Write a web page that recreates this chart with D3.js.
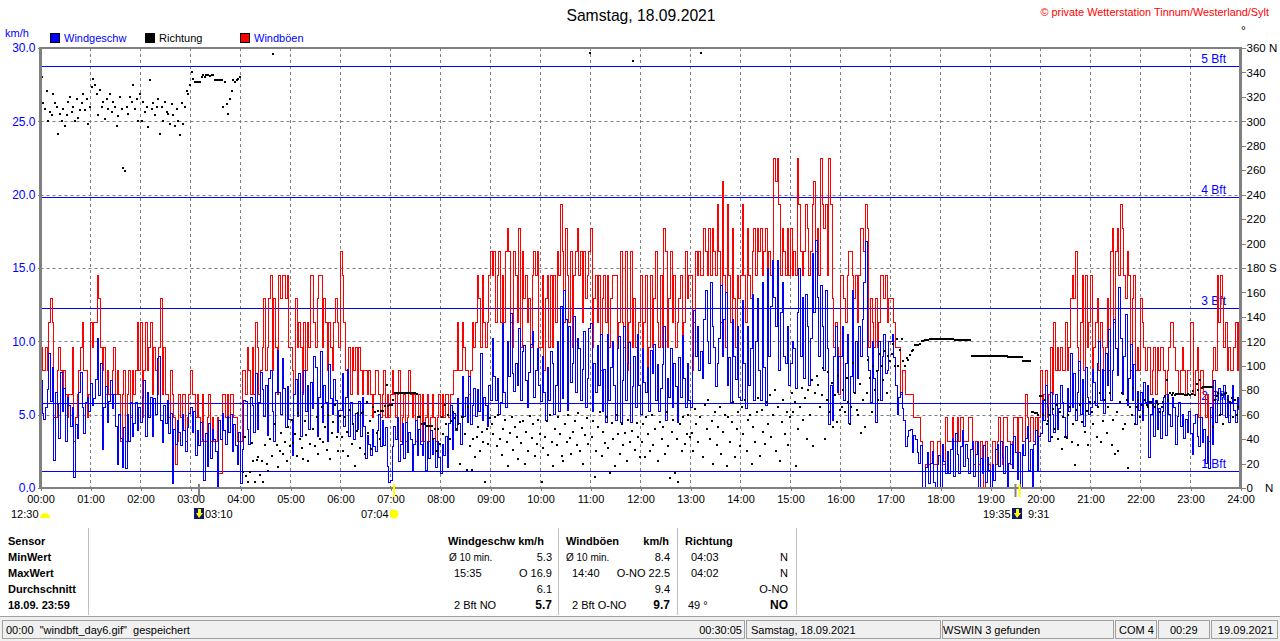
<!DOCTYPE html>
<html>
<head>
<meta charset="utf-8">
<title>Samstag, 18.09.2021</title>
<script src="https://d3js.org/d3.v7.min.js"></script>
<style>
  body { margin: 0; background: #fff; }
  svg { display: block; }
  text { font-family: "Liberation Sans", Arial, sans-serif; font-size: 11px; }
  .b { font-weight: bold; }
</style>
</head>
<body>
<div id="graph"></div>
<script>
// tick labels
var hourLabels = ["00:00","01:00","02:00","03:00","04:00","05:00","06:00","07:00","08:00","09:00","10:00","11:00","12:00",
                  "13:00","14:00","15:00","16:00","17:00","18:00","19:00","20:00","21:00","22:00","23:00","24:00"];
var speedTicks = [0, 5, 10, 15, 20, 25, 30];
var degreeTicks = [0,20,40,60,80,100,120,140,160,180,200,220,240,260,280,300,320,340,360];

// beaufort limits in km/h
var bftNames = ["1 Bft", "2 Bft", "3 Bft", "4 Bft", "5 Bft"];
var bftLimits = [1.1, 5.7, 12.2, 19.8, 28.7];

// wind gusts km/h, one row per hour
var gustRows = [
 [9.6,8,8,9.6,8,11.3,12.9,11.3,4.8,4.8,8,9.6,8,6.4,8,6.4,4.8,6.4,6.4,9.6,3.2,4.8,6.4,8,9.6,11.3,8,8,4.8,6.4],
 [11.3,9.6,11.3,11.3,14.5,12.9,9.6,8,9.6,6.4,8,6.4,6.4,8,9.6,6.4,8,6.4,3.2,6.4,8,3.2,6.4,8,4.8,8,6.4,8,11.3,8],
 [11.3,4.8,8,11.3,8,9.6,11.3,6.4,9.6,8,6.4,9.6,12.9,6.4,9.6,6.4,6.4,4.8,8,6.4,4.8,1.6,3.2,6.4,4.8,6.4,6.4,3.2,4.8,6.4],
 [8,6.4,6.4,4.8,6.4,4.8,3.2,6.4,3.2,3.2,4.8,6.4,3.2,4.8,3.2,3.2,4.8,1,1,6.4,6.4,4.8,6.4,4.8,6.4,6.4,4.8,4.8,3.2,3.2],
 [3.2,8,8,6.4,9.6,8,6.4,9.6,6.4,11.3,9.6,6.4,8,9.6,12.9,8,9.6,12.9,14.5,8,12.9,9.6,6.4,14.5,12.9,14.5,14.5,12.9,14.5,9.6],
 [9.6,8,6.4,12.9,9.6,11.3,9.6,6.4,11.3,8,11.3,9.6,14.5,14.5,11.3,9.6,12.9,14.5,14.5,9.6,12.9,11.3,8,11.3,9.6,8,11.3,12.9,11.3,9.6],
 [16.1,14.5,11.3,8,6.4,9.6,6.4,9.6,8,9.6,6.4,9.6,8,6.4,8,8,6.4,8,6.4,4.8,6.4,8,8,6.4,4.8,6.4,8,4.8,6.4,4.8],
 [6.4,8,6.4,4.8,6.4,8,3.2,4.8,6.4,3.2,4.8,8,6.4,4.8,6.4,3.2,4.8,6.4,3.2,6.4,3.2,4.8,6.4,3.2,4.8,6.4,4.8,3.2,4.8,6.4],
 [4.8,6.4,4.8,6.4,6.4,4.8,6.4,6.4,8,8,11.3,8,8,11.3,9.6,8,8,6.4,8,11.3,9.6,11.3,14.5,12.9,9.6,14.5,11.3,9.6,11.3,14.5],
 [16.1,14.5,16.1,11.3,14.5,16.1,11.3,14.5,11.3,16.1,17.7,16.1,11.3,9.6,16.1,14.5,11.3,17.7,9.6,16.1,12.9,14.5,11.3,12.9,9.6,14.5,16.1,14.5,16.1,9.6],
 [9.6,14.5,8,12.9,14.5,9.6,14.5,9.6,14.5,11.3,16.1,14.5,19.3,16.1,11.3,17.7,14.5,11.3,16.1,9.6,14.5,16.1,17.7,14.5,16.1,11.3,16.1,12.9,14.5,16.1],
 [17.7,9.6,12.9,14.5,11.3,14.5,8,12.9,14.5,11.3,14.5,9.6,12.9,14.5,14.5,14.5,9.6,11.3,16.1,11.3,9.6,16.1,8,11.3,16.1,9.6,12.9,9.6,8,11.3],
 [14.5,8,11.3,14.5,8,9.6,14.5,9.6,12.9,16.1,11.3,9.6,14.5,9.6,17.7,16.1,9.6,12.9,16.1,11.3,14.5,9.6,11.3,12.9,14.5,8,11.3,16.1,12.9,14.5],
 [14.5,8,11.3,16.1,14.5,16.1,14.5,14.5,17.7,16.1,14.5,17.7,14.5,17.7,16.1,14.5,19.3,16.1,11.3,20.9,14.5,9.6,19.3,14.5,11.3,17.7,12.9,9.6,14.5,12.9],
 [14.5,19.3,14.5,11.3,17.7,14.5,12.9,16.1,17.7,14.5,17.7,16.1,17.7,14.5,16.1,17.7,14.5,16.1,14.5,14.5,22.5,20.9,22.5,19.3,14.5,17.7,16.1,14.5,17.7,14.5],
 [17.7,14.5,16.1,14.5,22.5,19.3,16.1,14.5,16.1,19.3,17.7,14.5,16.1,19.3,20.9,16.1,17.7,14.5,22.5,19.3,17.7,19.3,14.5,22.5,19.3,12.9,9.6,11.3,9.6,6.4],
 [14.5,14.5,12.9,11.3,14.5,16.1,16.1,14.5,12.9,14.5,11.3,14.5,17.7,17.7,16.1,19.3,17.7,9.6,12.9,11.3,9.6,12.9,9.6,11.3,14.5,14.5,12.9,14.5,11.3,12.9],
 [12.9,12.9,11.3,9.6,9.6,9.6,6.4,8,8,6.4,6.4,6.4,6.4,6.4,4.8,4.8,4.8,4.8,3.2,0,0,1.6,1.6,1.6,3.2,3.2,1.6,1.6,3.2,3.2],
 [0,1.6,1.6,4.8,3.2,3.2,3.2,4.8,3.2,3.2,4.8,3.2,4.8,4.8,3.2,3.2,3.2,4.8,4.8,3.2,1.6,3.2,3.2,1.6,3.2,1.6,0,3.2,1.6,1.6],
 [0,3.2,3.2,1.6,3.2,4.8,3.2,1.6,4.8,4.8,3.2,3.2,1.6,3.2,4.8,4.8,1.6,4.8,4.8,3.2,3.2,6.4,4.8,3.2,4.8,4.8,3.2,4.8,3.2,4.8],
 [8,4.8,6.4,8,4.8,6.4,9.6,6.4,11.3,8,9.6,8,9.6,8,8,11.3,8,9.6,12.9,14.5,12.9,16.1,9.6,8,11.3,14.5,8,14.5,9.6,11.3],
 [14.5,8,9.6,11.3,12.9,8,11.3,9.6,8,9.6,12.9,8,16.1,17.7,11.3,16.1,17.7,14.5,19.3,17.7,14.5,12.9,16.1,14.5,8,12.9,14.5,8,9.6,8],
 [12.9,11.3,9.6,8,9.6,9.6,6.4,8,9.6,6.4,9.6,8,9.6,9.6,8,6.4,8,9.6,11.3,11.3,9.6,8,8,6.4,8,9.6,8,6.4,8,8],
 [11.3,11.3,6.4,8,9.6,4.8,8,8,6.4,4.8,6.4,3.2,4.8,8,9.6,8,14.5,11.3,14.5,12.9,9.6,11.3,8,9.6,8,8,9.6,11.3,8,11.3]
];

// mean wind speed km/h, one row per hour
var speedRows = [
 [7.3,5.1,4.7,5.5,6.7,9.2,5.9,8.2,1.9,6.5,5.7,3.4,7.9,5.2,6.8,3.2,6.2,5.6,4.2,5.5,0.7,4.3,3.4,6.5,7.9,5.5,3.7,5.8,6.2,5.2],
 [7.1,5.6,6.1,7.4,10.2,6.3,8.5,2.6,5.5,6.9,4.5,5.9,7.3,5.4,6.4,4.2,1.6,5,3.4,1.4,4.1,1.3,5,3.2,5.8,3.5,4.4,5.8,3.9,5.5],
 [4.5,6.2,7.3,3.5,6.5,4.8,6.2,3.5,6.1,5,8.8,9,4.6,3.1,5.6,4.4,6,3.7,5.1,0.3,4,3,4.6,3.8,2.9,5,3.9,2.5,4.1,5.1],
 [5.5,3.8,5.2,2.2,3.9,2.9,4.5,3.3,0.5,3.7,1.5,4.4,2,4,3.3,2.5,0.1,4.6,3.3,5.1,3.9,3,4.9,3.8,5,2.5,4.3,2.9,1.6,3.8],
 [0.3,2.6,6,5.9,4,3,6.2,5.6,3.8,7.8,4,5.8,7.9,6.7,4.9,7,3.6,7.5,8,5.2,3.2,6.5,9.4,6.5,5,8.8,6.8,4.1,6.9,4.7],
 [4.7,2.2,6.4,7.4,4.9,7.8,3.5,6.5,8,5.2,7,4,7.2,5.4,9,8.2,3.5,6.2,9.3,4.5,7,5.8,3.2,8.4,6.1,5,7.4,6,3.8,5.3],
 [5.3,7.8,4.2,6.2,8.1,3.5,5.8,4.3,3.3,5.1,4,5.9,3.5,6.2,4.2,2,3.6,3,2.2,4,2.8,2.5,3.9,5,2.8,4.6,2.9,4.1,1.5,0.4],
 [0.5,2.8,4.2,3.3,4.8,1.8,3,4.4,2,4.5,2.4,3.8,3.3,1.2,3,4.6,2.2,4,3,2.2,4.5,1.2,3.2,2,3.9,2.3,3.4,1.4,3.2,2.1],
 [1,3,2.2,3.5,1.4,4.4,5.6,2.6,5.1,3.9,6.1,4.4,3,7.6,4.9,6.2,4.5,7.6,4.3,5.6,6.8,4.9,6.7,5.2,9.2,4.6,6.2,5.6,4.2,7],
 [6,10.2,7.6,6,7.5,5,5.8,11.2,6.5,5.5,10,7.6,11.9,7.8,6.6,8.5,7,10.9,6,9.3,9.7,7.3,5.5,7.9,9.8,10.7,6.2,8,9.5,7],
 [5.9,9,6.5,4.6,8.2,6,9.3,8.5,5,7,10,5.2,12.4,6.1,13.5,11.5,5.3,11,7.2,8.5,11.7,6.5,10.2,9.5,6,8.1,10.7,5.5,7.5,10.9],
 [11.2,5.2,8.5,6.5,9.7,7,10.5,5.2,8.1,4.5,10.5,6,8.2,10,7,4.6,9.5,10.3,4.5,7.3,11,6,8.5,9.9,4.5,6.9,9,5.5,10.5,7],
 [5,9.5,7.2,6.5,8.2,5.2,9.4,7.8,9.8,6,8.4,5.2,6.8,8.4,11,4.6,7.5,6.2,9.5,5.5,8.5,6.9,4.5,8.9,6.2,10.4,7.5,5.5,8.5,6],
 [5.5,9,12.1,9,11,8,9.3,7.5,11.5,13.5,10,8.5,14,11,9.6,6.9,8.5,10.2,13.8,9,11.5,13.3,7,8.9,5.8,11.5,9,7.4,11,6.2],
 [6,12.8,8.5,5.4,11,7,9.5,13.2,6,10,12.9,8,6,14,8.2,5.6,15,9,12.4,15.5,13,11,15.5,8,12,14,9,8.5,11,7],
 [8.5,10,9.5,6.8,12,15,9,13,7.5,13.2,11,7,10.2,16,12,16.9,13,9,13.8,11,8,13.5,9.5,4.3,7,4.6,9,11,6.5,9],
 [9,11,6,8.5,10.5,4.4,7.6,13.5,6.5,10,7.5,11,9,11.5,14,16.8,9,8,5.8,10,7.5,4.5,8,10,6,9,10.5,7.8,8,10],
 [10,10.5,8.9,7,5,6.2,6.5,5.4,4.6,2.8,3.5,3.9,4,2.4,3.6,3.3,2.4,1.7,2.9,0,0,1.4,2.4,0.3,1.7,2.5,0.4,0,1.6,2.2],
 [0,3,1.8,1,2.5,1,2.6,3.4,0.8,3.7,2.3,1,2.8,3.9,1.5,3,2,1,2.6,3.2,0.8,2.3,3.1,0,2,1,2.9,0.4,2.1,1.2],
 [0,1.6,0.5,2.6,3,1.5,3.2,2.1,1,2.8,0,1.7,3,1.3,3.5,2.4,0.6,2.4,0,3,2.2,3.4,4.2,1.2,2.6,0,3,3.9,1.2,3.5],
 [3.7,6,4.6,7,5.5,3.2,6.5,5,3.8,6.4,4,5.4,7,5.8,4.8,3.5,6.8,5.2,9.2,5.5,7.8,4.6,6.5,8.6,5,7.4,4.2,8.2,6.2,5],
 [5.5,8.1,7.2,5.6,8.5,10,6,8.1,5.1,9.2,7,10.8,6,8,11.5,9.5,7.7,13.7,10.2,6.4,9,11.8,5.6,7.5,9.8,6,8.4,4.3,6.6,5.3],
 [6.5,4.6,7.2,5.8,7,2.1,5,6.1,3.5,6,4,5.4,3.4,5.2,6.2,3.6,6.4,5,4.2,6.2,5.5,3,4.9,5.8,4.2,5,3.4,4.7,3.8,5.2],
 [3.7,2.3,4.4,5,3.5,2.8,4.8,3.1,4,1.7,3.5,1.3,5.5,3,7.3,4.5,6,6.8,5,6.2,7,4.8,6.3,4.5,5.8,7,5.3,4.5,6.2,5.3]
];

// wind direction in degrees, one row per hour
var directionRows = [
 [336,315,310,325,300,308,305,322,315,312,290,306,300,310,296,305,316,320,308,312,300,318,303,309,315,322,309,318,298,312],
 [328,335,330,322,305,326,312,316,302,318,310,322,308,316,312,296,304,320,310,262,259,312,306,320,316,330,310,318,300,322],
 [300,316,308,312,295,334,310,315,305,312,318,290,312,300,316,308,306,298,314,305,296,310,300,289,315,298,312,325,322,330],
 [340,335,332,332,332,332,336,338,336,338,338,337,338,338,334,334,334,334,334,312,332,314,306,318,325,334,332,334,335,336],
 [360,13,42,10,5,13,37,22,5,23,25,11,22,5,35,20,14,40,26,355,52,35,17,30,45,28,38,22,50,34],
 [56,37,44,26,61,40,33,24,55,43,22,36,360,48,34,58,28,40,66,38,50,31,60,24,45,54,68,42,30,59],
 [42,30,58,46,26,64,36,52,18,47,61,33,61,62,28,70,45,55,32,66,62,45,63,40,63,63,67,84,67,68],
 [68,72,78,78,78,78,78,78,78,78,78,78,78,78,78,77,58,58,52,52,52,51,51,51,51,40,48,30,48,36],
 [58,44,68,52,60,40,55,62,57,48,52,20,58,58,44,15,66,34,15,40,25,42,50,30,46,38,5,48,36,57],
 [52,44,58,34,60,40,27,48,56,38,18,45,58,31,50,42,24,54,37,55,20,46,30,59,41,52,26,36,56,44],
 [5,33,42,55,27,60,38,18,48,35,58,44,26,22,52,38,60,41,28,46,55,35,61,30,49,20,43,57,36,356],
 [42,55,9,30,50,62,26,46,37,58,33,12,53,40,18,60,44,28,52,35,45,22,56,38,47,349,31,53,42,25],
 [38,52,25,58,44,30,60,35,48,360,22,54,40,50,28,62,34,8,46,56,12,40,5,52,30,58,36,44,60,42],
 [45,30,65,52,38,58,356,25,68,48,72,40,55,20,62,35,50,66,28,46,60,18,58,38,54,70,25,48,62,34],
 [66,44,72,30,56,60,20,50,38,62,74,26,64,46,36,70,52,76,42,60,80,30,66,22,54,72,44,62,35,58],
 [78,62,70,18,48,66,82,56,74,40,80,60,88,34,78,92,84,66,76,98,40,72,95,62,86,50,76,54,92,64],
 [66,80,62,90,70,52,66,102,78,64,60,85,45,72,50,78,105,90,62,100,80,96,72,110,100,88,112,78,108,104],
 [110,118,100,122,100,113,122,104,100,106,105,109,112,113,117,117,117,118,120,120,121,121,121,122,122,122,122,122,122,122],
 [122,122,122,122,122,122,122,122,121,121,121,121,121,121,121,121,121,121,108,108,108,108,108,108,108,108,108,108,108,108],
 [108,108,108,108,108,108,108,108,108,108,107,107,107,107,107,107,107,107,107,104,104,104,104,104,62,62,61,61,60,75],
 [75,60,72,52,55,60,42,65,48,68,40,62,32,58,42,41,60,66,38,52,19,64,35,68,54,72,46,63,35,70],
 [62,52,70,42,66,78,38,55,72,45,66,78,35,56,28,62,30,70,78,48,52,72,16,66,60,82,52,66,72,58],
 [68,62,72,68,66,70,70,68,66,70,69,62,66,70,75,88,72,78,76,78,76,77,77,77,77,77,76,76,77,76],
 [77,79,76,85,80,88,82,83,83,83,83,83,83,50,72,75,78,60,76,52,77,78,72,70,74,58,72,60,66,50]
];

var width = 1280, height = 641;
var margin = {top: 48, right: 1240.5, bottom: 488, left: 40.5};

var x = d3.scaleLinear().domain([0, 24]).range([margin.left, margin.right]);
var ySpeed = d3.scaleLinear().domain([0, 30]).range([margin.bottom, margin.top]);
var yDeg = d3.scaleLinear().domain([0, 360]).range([margin.bottom, margin.top]);

// rows -> [hour, value]
function flatten(rows) {
  return rows.flatMap(function(row, h) {
    return row.map(function(v, i) { return [h + i / row.length, v]; });
  });
}
// keep thin lines on the pixel grid
function snap(v) { return Math.round(v) + 0.5; }

var svg = d3.select("#graph").append("svg")
    .attr("width", width).attr("height", height);

function label(txt, px, py, opts) {
  opts = opts || {};
  return svg.append("text").text(txt)
      .attr("x", px).attr("y", py)
      .attr("class", opts.bold ? "b" : null)
      .attr("text-anchor", opts.anchor || "start")
      .attr("fill", opts.color || "#000")
      .style("font-size", opts.size ? opts.size + "px" : null);
}

// grid
svg.append("g").selectAll("line").data(d3.range(1, 24)).join("line")
    .attr("x1", function(d) { return x(d); }).attr("x2", function(d) { return x(d); })
    .attr("y1", margin.top).attr("y2", margin.bottom)
    .attr("stroke", "#808080").attr("stroke-dasharray", "3,3");
svg.append("g").selectAll("line").data(speedTicks.slice(1, -1)).join("line")
    .attr("x1", margin.left).attr("x2", margin.right)
    .attr("y1", function(d) { return snap(ySpeed(d)); }).attr("y2", function(d) { return snap(ySpeed(d)); })
    .attr("stroke", "#808080").attr("stroke-dasharray", "3,3");

// beaufort lines and names
svg.append("g").selectAll("line").data(bftLimits).join("line")
    .attr("x1", margin.left).attr("x2", margin.right)
    .attr("y1", function(d) { return snap(ySpeed(d)) - 1; }).attr("y2", function(d) { return snap(ySpeed(d)) - 1; })
    .attr("stroke", "#0000ff");
bftLimits.forEach(function(d, i) {
  label(bftNames[i], 1226, ySpeed(d) - 4, {anchor: "end", color: "#0000ff", size: 12});
});

// series
var stepLine = function(scale) {
  return d3.line().curve(d3.curveStepAfter)
      .x(function(d) { return x(d[0]); })
      .y(function(d) { return scale(d[1]); });
};
svg.append("path").datum(flatten(gustRows))
    .attr("d", stepLine(ySpeed))
    .attr("fill", "none").attr("stroke", "#ff0000").attr("stroke-width", 1)
    .attr("shape-rendering", "crispEdges");
svg.append("path").datum(flatten(speedRows))
    .attr("d", stepLine(ySpeed))
    .attr("fill", "none").attr("stroke", "#0000ff").attr("stroke-width", 1)
    .attr("shape-rendering", "crispEdges");
svg.append("g").selectAll("rect").data(flatten(directionRows)).join("rect")
    .attr("x", function(d) { return Math.round(x(d[0])); })
    .attr("y", function(d) { return Math.round(yDeg(d[1])) - 1; })
    .attr("width", 2).attr("height", 2).attr("fill", "#000");

// frame
svg.append("rect")
    .attr("x", margin.left).attr("y", margin.top)
    .attr("width", margin.right - margin.left).attr("height", margin.bottom - margin.top)
    .attr("fill", "none").attr("stroke", "#808080").attr("stroke-width", 2.5).attr("shape-rendering", "crispEdges");

// axes
var axisLeft = svg.append("g").attr("transform", "translate(" + margin.left + ",0)")
    .call(d3.axisLeft(ySpeed).tickValues(speedTicks).tickFormat(d3.format(".1f")).tickSize(3).tickPadding(2));
axisLeft.selectAll("text").attr("fill", "#0000ff").style("font-size", "12px");

var axisRight = svg.append("g").attr("transform", "translate(" + margin.right + ",0)")
    .call(d3.axisRight(yDeg).tickValues(degreeTicks).tickSize(5).tickPadding(1)
        .tickFormat(function(d) { return d === 180 ? "180 S" : d === 360 ? "360 N" : d; }));
axisRight.selectAll("text").attr("fill", "#000").style("font-size", "11.5px");
label("N", 1265, 492, {size: 11.5});
label("\u00b0", 1241, 35, {size: 12});

var axisBottom = svg.append("g").attr("transform", "translate(0," + margin.bottom + ")")
    .call(d3.axisBottom(x).tickValues(d3.range(0, 25)).tickSize(3).tickPadding(4)
        .tickFormat(function(d) { return hourLabels[d]; }));
axisBottom.selectAll("text").attr("fill", "#000").style("font-size", "11px");
[axisLeft, axisRight, axisBottom].forEach(function(a) {
  a.select(".domain").attr("stroke", "none");
  a.selectAll(".tick line").attr("stroke", "#808080").attr("shape-rendering", "crispEdges");
});

// head
label("Samstag, 18.09.2021", 641, 21, {anchor: "middle", size: 15.7});
label("\u00a9 private Wetterstation Tinnum/Westerland/Sylt", 1269, 16, {anchor: "end", color: "#ff0000", size: 10.9});
label("km/h", 5, 37, {color: "#0000ff", size: 11});

// legend
var legendNames = ["Windgeschw", "Richtung", "Windb\u00f6en"];
var legendFills = ["#0000ff", "#000000", "#ff0000"];
var legendText = ["#0000ff", "#000000", "#0000ff"];
var legendX = [50, 145, 240];
legendNames.forEach(function(n, i) {
  svg.append("rect").attr("x", legendX[i] + 0.5).attr("y", 33.5).attr("width", 9).attr("height", 9)
      .attr("fill", legendFills[i]).attr("stroke", "#000");
  label(n, legendX[i] + 14, 42, {color: legendText[i], size: 11});
});

// sun and moon marks under the axis
var sunMarks = [[3.17, "#808080"], [7.07, "#ffff00"], [19.5, "#808080"], [19.58, "#ffff00"]];
svg.append("g").selectAll("rect").data(sunMarks).join("rect")
    .attr("x", function(d) { return x(d[0]) - 1; }).attr("y", 484)
    .attr("width", 2).attr("height", 13).attr("fill", function(d) { return d[1]; });
label("12:30", 11, 518, {size: 11});
label("03:10", 205, 518, {size: 11});
label("07:04", 361, 518, {size: 11});
label("19:35", 983, 518, {size: 11});
label("9:31", 1028, 518, {size: 11});
svg.append("path").attr("d", "M40,518 A5,5 0 0 1 50,518 Z").attr("fill", "#ffff00");
svg.append("circle").attr("cx", 394).attr("cy", 514).attr("r", 4.5).attr("fill", "#ffff00");
[194, 1012].forEach(function(mx) {
  svg.append("rect").attr("x", mx).attr("y", 508).attr("width", 10).attr("height", 11).attr("fill", "#10186b");
  svg.append("path").attr("d", "M" + (mx + 5) + ",518 L" + (mx + 2) + ",513 L" + (mx + 4) + ",513 L" + (mx + 4) + ",509 L" + (mx + 7) + ",509 L" + (mx + 7) + ",513 L" + (mx + 9) + ",513 Z")
      .attr("fill", "#ffff00");
});

// table below the chart
[88, 558, 677, 796].forEach(function(sx) {
  svg.append("line").attr("x1", sx + 0.5).attr("x2", sx + 0.5).attr("y1", 528).attr("y2", 615)
      .attr("stroke", "#c0c0c0");
});
var rowY = [545, 561, 577, 593, 609];
["Sensor", "MinWert", "MaxWert", "Durchschnitt", "18.09. 23:59"].forEach(function(t, i) {
  label(t, 8, rowY[i], {bold: true});
});
label("Windgeschw km/h", 448, rowY[0], {bold: true});
label("Ø 10 min.", 449, rowY[1], {size: 10});
label("5.3", 552, rowY[1], {anchor: "end"});
label("15:35", 454, rowY[2]);
label("O 16.9", 552, rowY[2], {anchor: "end"});
label("6.1", 552, rowY[3], {anchor: "end"});
label("2 Bft NO", 454, rowY[4]);
label("5.7", 552, rowY[4], {anchor: "end", bold: true, size: 12});
label("Windböen", 566, rowY[0], {bold: true});
label("km/h", 669, rowY[0], {bold: true, anchor: "end"});
label("Ø 10 min.", 566, rowY[1], {size: 10});
label("8.4", 670, rowY[1], {anchor: "end"});
label("14:40", 572, rowY[2]);
label("O-NO 22.5", 670, rowY[2], {anchor: "end"});
label("9.4", 670, rowY[3], {anchor: "end"});
label("2 Bft O-NO", 572, rowY[4]);
label("9.7", 670, rowY[4], {anchor: "end", bold: true, size: 12});
label("Richtung", 685, rowY[0], {bold: true});
label("04:03", 691, rowY[1]);
label("N", 788, rowY[1], {anchor: "end"});
label("04:02", 691, rowY[2]);
label("N", 788, rowY[2], {anchor: "end"});
label("O-NO", 788, rowY[3], {anchor: "end"});
label("49 °", 688, rowY[4]);
label("NO", 788, rowY[4], {anchor: "end", bold: true, size: 12});

// status bar
svg.append("rect").attr("x", 0).attr("y", 616).attr("width", width).attr("height", 25).attr("fill", "#f0f0f0");
svg.append("line").attr("x1", 0).attr("x2", width).attr("y1", 616.5).attr("y2", 616.5).attr("stroke", "#a0a0a0");
var panelX = [2, 746, 942, 1115, 1158, 1211];
var panelW = [742, 194, 171, 41, 51, 66];
panelX.forEach(function(px, i) {
  svg.append("rect").attr("x", px + 0.5).attr("y", 620.5).attr("width", panelW[i]).attr("height", 18)
      .attr("fill", "#f0f0f0").attr("stroke", "#a0a0a0").attr("stroke-width", 1);
});
label("00:00  \"windbft_day6.gif\"  gespeichert", 6, 634).style("white-space", "pre");
label("00:30:05", 742, 634, {anchor: "end"});
label("Samstag, 18.09.2021", 751, 634);
label("WSWIN 3 gefunden", 943, 634);
label("COM 4", 1119, 634);
label("00:29", 1170, 634);
label("19.09.2021", 1218, 634);
</script>
</body>
</html>
